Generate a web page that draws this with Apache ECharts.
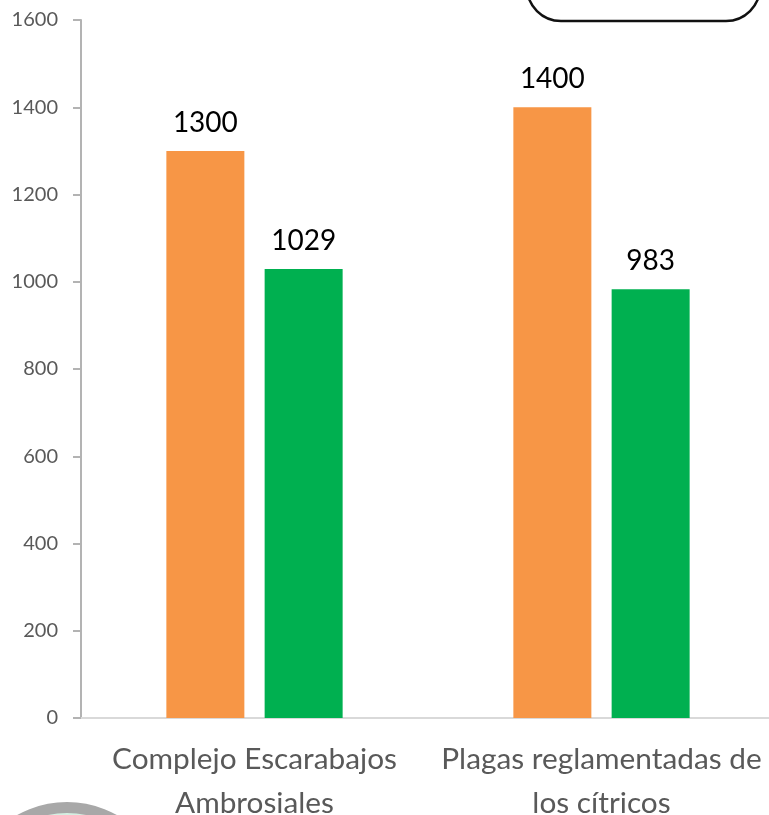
<!DOCTYPE html>
<html><head><meta charset="utf-8">
<style>html,body{margin:0;padding:0;background:#fff}#c{width:769px;height:815px}</style>
<script src="https://cdn.jsdelivr.net/npm/echarts@6/dist/echarts.min.js"></script>
</head><body><div id="c"></div>
<script>
const categories = ['Complejo Escarabajos\nAmbrosiales', 'Plagas reglamentadas de\nlos cítricos'];
const orangeValues = [1300, 1400];
const greenValues = [1029, 983];
const chart = echarts.init(document.getElementById('c'), null, {renderer:'canvas'});
const label = {show:true, position:'top', distance:14, color:'#000', fontFamily:'Lato', fontSize:28};
chart.setOption({
  animation:false,
  backgroundColor:'#fff',
  grid:{left:81, right:-6, top:20, bottom:97, containLabel:false, outerBoundsMode:'none'},
  xAxis:{type:'category', data:categories,
    axisLine:{lineStyle:{color:'#d9d9d9', width:2}}, axisTick:{show:false},
    axisLabel:{color:'#595959', fontFamily:'Lato', fontSize:29.8, lineHeight:44, margin:19, interval:0}},
  yAxis:{type:'value', min:0, max:1600, interval:200,
    axisLine:{show:true, lineStyle:{color:'#b3b3b3', width:2}},
    axisTick:{show:true, length:8, lineStyle:{color:'#b3b3b3', width:2}},
    splitLine:{show:false},
    axisLabel:{color:'#595959', fontFamily:'Lato', fontSize:20, margin:23, formatter:v=>String(v)}},
  series:[
    {type:'bar', data:orangeValues, barWidth:78, barGap:'26%', itemStyle:{color:'#F79646'}, label},
    {type:'bar', data:greenValues, barWidth:78, itemStyle:{color:'#00B050'}, label}
  ],
  graphic:[
    {type:'rect', shape:{x:527,y:-60,width:233,height:81,r:34}, style:{fill:'#fff',stroke:'#111',lineWidth:2.5}, z:10},
    {type:'circle', shape:{cx:67,cy:904,r:96.5}, style:{fill:'#d5efe2',stroke:'#a8a8a8',lineWidth:11}, z:10}
  ]
});
</script></body></html>
